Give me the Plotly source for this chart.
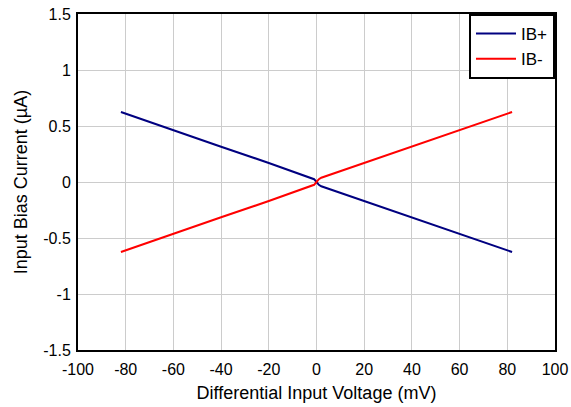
import plotly.graph_objects as go

vdiff = [-82, -60, -40, -20, -5, -2, -1, 0, 1, 2, 5, 20, 40, 60, 82]
ib_plus = [0.625, 0.46, 0.315, 0.17, 0.06, 0.038, 0.025, 0.0, -0.025, -0.038, -0.06, -0.17, -0.315, -0.46, -0.625]
ib_minus = [-v for v in ib_plus]

x_ticks = [-100, -80, -60, -40, -20, 0, 20, 40, 60, 80, 100]
y_ticks = [-1.5, -1, -0.5, 0, 0.5, 1, 1.5]
y_labels = ["-1.5", "-1", "-0.5", "0", "0.5", "1", "1.5"]

fig = go.Figure()
fig.add_trace(go.Scatter(x=vdiff, y=ib_plus, mode="lines", name="IB+",
                         line=dict(color="#000080", width=2)))
fig.add_trace(go.Scatter(x=vdiff, y=ib_minus, mode="lines", name="IB-",
                         line=dict(color="#ff0000", width=2)))

font = "Liberation Sans, Arial, sans-serif"
fig.update_layout(
    width=571, height=407,
    margin=dict(l=78, r=16, t=14, b=57),
    paper_bgcolor="white", plot_bgcolor="white",
    font=dict(family=font, size=15, color="black"),
    showlegend=True,
    legend=dict(x=1, y=1, xanchor="right", yanchor="top",
                bordercolor="black", borderwidth=2, bgcolor="white",
                font=dict(size=17), itemwidth=40, tracegroupgap=0),
)
fig.update_xaxes(range=[-100, 100], tickvals=x_ticks,
                 ticktext=[str(v) for v in x_ticks],
                 tickfont=dict(size=16),
                 showgrid=True, gridcolor="#cccccc", gridwidth=1,
                 zeroline=False, showline=True, linecolor="black", linewidth=2,
                 mirror=True, ticks="outside", ticklen=4, tickcolor="rgba(0,0,0,0)",
                 automargin=False,
                 title=dict(text="Differential Input Voltage (mV)", standoff=9))
fig.update_yaxes(range=[-1.5, 1.5], tickvals=y_ticks, ticktext=y_labels,
                 tickfont=dict(size=16),
                 showgrid=True, gridcolor="#cccccc", gridwidth=1,
                 zeroline=False, showline=True, linecolor="black", linewidth=2,
                 mirror=True, ticks="outside", ticklen=2, tickcolor="rgba(0,0,0,0)",
                 automargin=False,
                 title=dict(text="Input Bias Current (µA)", standoff=11))

fig.write_html("out.html", config={"displayModeBar": False},
               post_script="document.body.style.margin='0';document.body.style.overflow='hidden';")
